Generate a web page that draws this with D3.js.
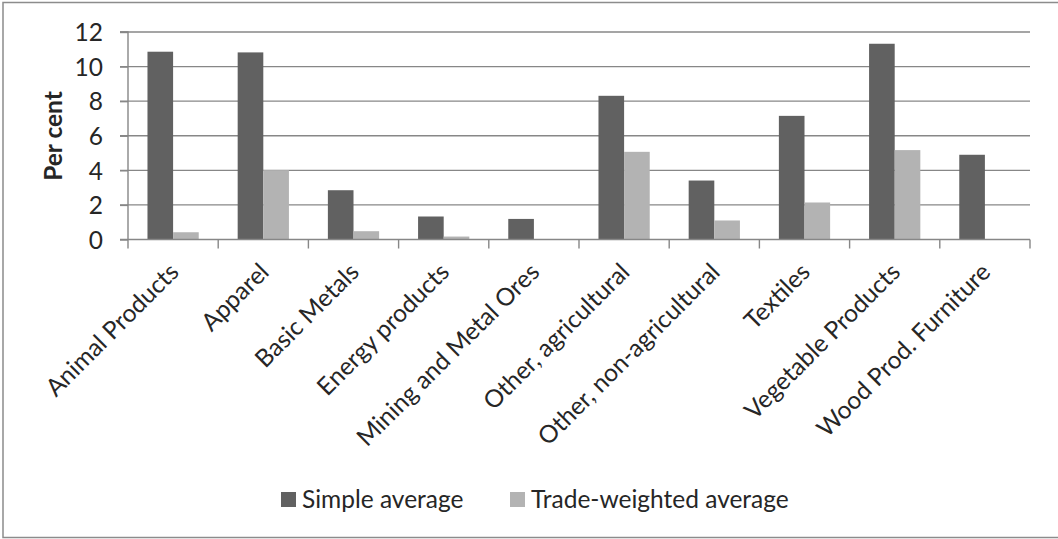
<!DOCTYPE html>
<html>
<head>
<meta charset="utf-8">
<script src="https://cdn.jsdelivr.net/npm/d3@7"></script>
<style>
  html, body { margin: 0; padding: 0; background: #fff; }
  svg { display: block; }
  text { font-family: Lato, "Open Sans", sans-serif; fill: #262626; }
</style>
</head>
<body>
<svg id="chart" width="1058" height="539"></svg>
<script>
const categories = ["Animal Products", "Apparel", "Basic Metals", "Energy products", "Mining and Metal Ores",
  "Other, agricultural", "Other, non-agricultural", "Textiles", "Vegetable Products", "Wood Prod. Furniture"];
const seriesNames = ["Simple average", "Trade-weighted average"];
const simpleAverage = [10.86, 10.82, 2.85, 1.33, 1.19, 8.31, 3.41, 7.15, 11.32, 4.90];
const tradeWeighted = [0.42, 4.01, 0.48, 0.17, 0, 5.07, 1.10, 2.14, 5.17, 0];
const yTicks = [0, 2, 4, 6, 8, 10, 12];
const yTitle = "Per cent";
const colors = ["#616161", "#b3b3b3"];

(function () {
const svg = d3.select("#chart");
const W = 1058, H = 539;
const mLeft = 128, mRight = 1030, mTop = 32, mBottom = 239.5;
const gridColor = "#878787";
const fs = 24.5;

// outer border
svg.append("rect").attr("x", 3).attr("y", 2.5).attr("width", W + 10).attr("height", 535)
  .attr("fill", "none").attr("stroke", "#8c8c8c").attr("stroke-width", 1.5);

const x0 = d3.scaleBand().domain(categories).range([mLeft, mRight]).padding(0);
const x1 = d3.scaleBand().domain(seriesNames).range([0, x0.bandwidth()]).paddingInner(0).paddingOuter(0.76);
const y = d3.scaleLinear().domain([0, 12]).range([mBottom, mTop]);

// gridlines
svg.append("g").selectAll("line").data(yTicks.filter(t => t > 0)).join("line")
  .attr("x1", mLeft - 8).attr("x2", mRight)
  .attr("y1", d => y(d)).attr("y2", d => y(d))
  .attr("stroke", gridColor).attr("stroke-width", 1.4);

// y axis
const yAxis = d3.axisLeft(y).tickValues(yTicks).tickSize(8).tickPadding(17).tickFormat(d3.format("d"));
const yg = svg.append("g").attr("transform", `translate(${mLeft},0)`).call(yAxis);
yg.select(".domain").attr("stroke", gridColor).attr("stroke-width", 1.4).attr("d", `M-8,${mTop}H0V${mBottom}`);
yg.selectAll(".tick line").attr("stroke", gridColor).attr("stroke-width", 1.4);
yg.selectAll(".tick text").attr("font-size", fs).attr("font-family", "Lato, sans-serif").attr("fill", "#262626").attr("dy", "0.36em");

// bars
const groups = svg.append("g").selectAll("g").data(categories).join("g")
  .attr("transform", d => `translate(${x0(d)},0)`);
groups.selectAll("rect").data((d, i) => [
    { s: seriesNames[0], v: simpleAverage[i] },
    { s: seriesNames[1], v: tradeWeighted[i] }
  ]).join("rect")
  .attr("x", d => x1(d.s)).attr("width", x1.bandwidth())
  .attr("y", d => y(d.v)).attr("height", d => y(0) - y(d.v))
  .attr("fill", (d, i) => colors[i]);

// x axis
const xg = svg.append("g").attr("transform", `translate(0,${mBottom})`);
xg.append("line").attr("x1", mLeft - 8).attr("x2", mRight).attr("y1", 0).attr("y2", 0)
  .attr("stroke", gridColor).attr("stroke-width", 1.4);
const boundaries = categories.map(c => x0(c)).concat([mRight]);
xg.selectAll("line.tk").data(boundaries).join("line").attr("class", "tk")
  .attr("x1", d => d).attr("x2", d => d).attr("y1", 0).attr("y2", 9)
  .attr("stroke", gridColor).attr("stroke-width", 1.4);
xg.selectAll("text.lbl").data(categories).join("text").attr("class", "lbl")
  .attr("transform", d => `translate(${x0(d) + x0.bandwidth() / 2 + 1},${28}) rotate(-45)`)
  .attr("text-anchor", "end").attr("dy", "0.35em")
  .attr("font-size", fs)
  .text(d => d);

// y title
svg.append("text").attr("transform", `translate(53,136) rotate(-90)`)
  .attr("text-anchor", "middle").attr("dy", "0.35em")
  .attr("font-size", 24.5).attr("font-weight", "bold").attr("fill", "#000")
  .text(yTitle);

// legend
const legendX = [281, 510];
const lg = svg.append("g");
seriesNames.forEach((s, i) => {
  lg.append("rect").attr("x", legendX[i]).attr("y", 492).attr("width", 15).attr("height", 15).attr("fill", colors[i]);
  lg.append("text").attr("x", legendX[i] + 21).attr("y", 499.5).attr("dy", "0.35em")
    .attr("font-size", fs).text(s);
});
})();
</script>
</body>
</html>
